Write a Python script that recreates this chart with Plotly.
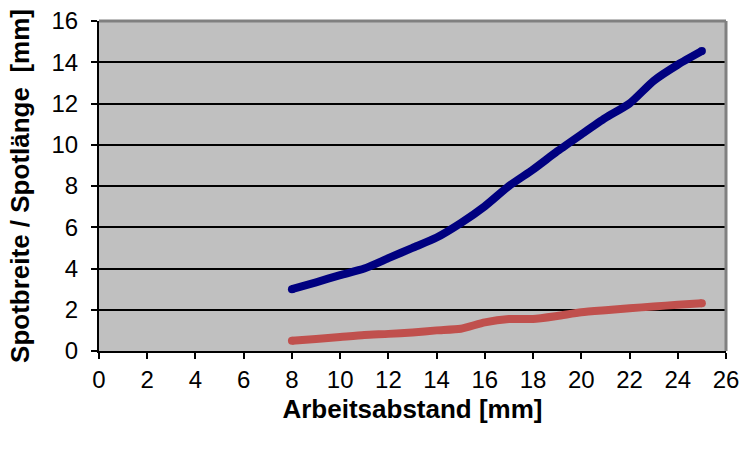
import plotly.graph_objects as go

abstand = [8, 9, 10, 11, 12, 13, 14, 15, 16, 17, 18, 19, 20, 21, 22, 23, 24, 25]
spotlaenge = [3.0, 3.33, 3.68, 4.0, 4.5, 5.0, 5.5, 6.2, 7.02, 8.0, 8.8, 9.68, 10.5, 11.3, 12.0, 13.1, 13.88, 14.54]
spotbreite = [0.5, 0.58, 0.68, 0.78, 0.83, 0.9, 1.0, 1.08, 1.39, 1.55, 1.55, 1.7, 1.88, 1.98, 2.07, 2.16, 2.24, 2.32]

x_ticks = list(range(0, 27, 2))
y_ticks = list(range(0, 17, 2))

blue = "#000080"
red = "#C0504D"
lw = 8

fig = go.Figure()
for ys, col in [(spotbreite, red), (spotlaenge, blue)]:
    fig.add_trace(go.Scatter(x=abstand, y=ys, mode="lines",
                             line=dict(color=col, width=lw, shape="spline", smoothing=0.6),
                             hoverinfo="skip", showlegend=False))
    fig.add_trace(go.Scatter(x=[abstand[0], abstand[-1]], y=[ys[0], ys[-1]], mode="markers",
                             marker=dict(color=col, size=lw, line=dict(width=0)),
                             hoverinfo="skip", showlegend=False))

fig.update_layout(
    width=741, height=450,
    margin=dict(l=99, r=15, t=21, b=99),
    paper_bgcolor="white", plot_bgcolor="#C0C0C0",
    font=dict(family="Liberation Sans, Arial, sans-serif", size=24, color="black"),
    xaxis=dict(range=[0, 26], tickvals=x_ticks, showgrid=False, zeroline=False,
               showline=True, linecolor="black", linewidth=2, ticks="outside",
               ticklen=6, tickwidth=2, tickcolor="black", automargin=False,
               ticklabeloverflow="allow",
               title=dict(text="<b>Arbeitsabstand [mm]</b>", font=dict(size=26), standoff=8)),
    yaxis=dict(range=[0, 16], tickvals=y_ticks, showgrid=True, gridcolor="black", gridwidth=2,
               zeroline=False, showline=True, linecolor="black", linewidth=2, ticks="outside",
               ticklen=6, tickwidth=2, tickcolor="black", automargin=False,
               ticklabelstandoff=8,
               title=dict(text="<b>Spotbreite / Spotlänge  [mm]</b>", font=dict(size=26), standoff=14)),
    shapes=[
        dict(type="line", xref="paper", yref="paper", x0=0, x1=1, y0=1, y1=1,
             line=dict(color="#808080", width=3)),
        dict(type="line", xref="paper", yref="paper", x0=1, x1=1, y0=0, y1=1,
             line=dict(color="#808080", width=3)),
    ],
)

# remove the default 8px page margin so the figure sits at the window origin
fig.write_html("out.html", config={"displayModeBar": False},
               post_script="document.body.style.margin='0';")
